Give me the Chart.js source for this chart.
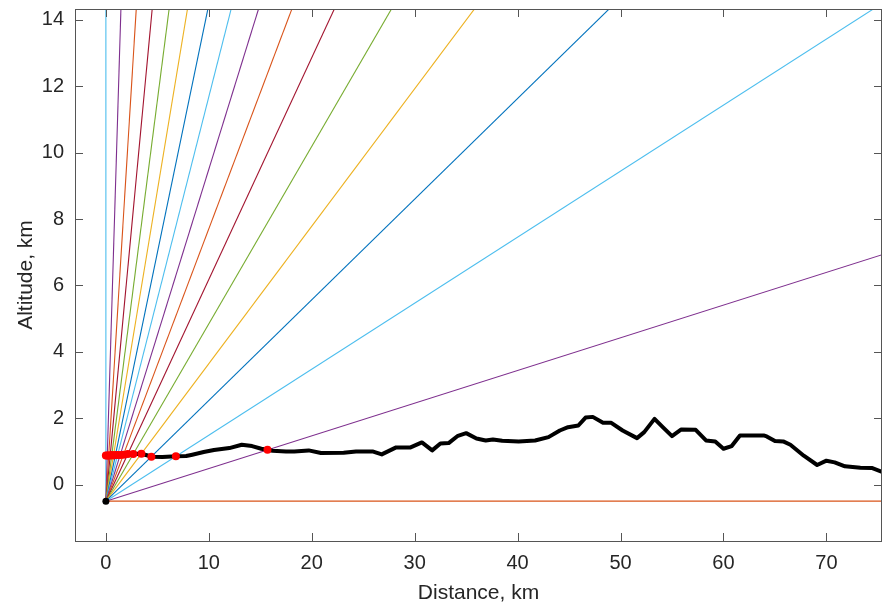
<!DOCTYPE html>
<html>
<head>
<meta charset="utf-8">
<title>Ray paths over terrain</title>
<script src="https://cdn.jsdelivr.net/npm/chart.js@4.4.1/dist/chart.umd.min.js"></script>
<style>
  html, body { margin: 0; padding: 0; background: #fff; }
  canvas { display: block; }
</style>
</head>
<body>
<canvas id="myChart" width="886" height="606"></canvas>
<script>
// terrain profile along the path (km)
const terrainX = [0, 0.5, 1.0, 1.5, 2.0, 2.6, 3.2, 3.8, 4.5, 5.5, 6.8, 7.8, 8.4, 9.5, 10.5, 12.0, 13.2, 14.2, 15.1, 16.2,
  17.5, 18.3, 19.7, 20.9, 23.1, 24.3, 25.9, 26.8, 28.2, 29.6, 30.7, 31.7, 32.5, 33.3, 34.2, 35.0, 36.0, 36.9, 37.6, 38.5,
  40.1, 41.7, 43.0, 44.1, 44.9, 45.9, 46.6, 47.3, 48.3, 49.1, 50.2, 51.6, 52.3, 53.3, 54.1, 55.0, 55.9, 57.3, 58.3, 59.2,
  60.0, 60.8, 61.6, 63.9, 64.2, 65.0, 65.8, 66.5, 67.8, 69.1, 70.0, 70.8, 71.8, 73.3, 74.4, 75.5];
const terrainY = [0.88, 0.87, 0.88, 0.89, 0.90, 0.92, 0.93, 0.90, 0.84, 0.83, 0.85, 0.86, 0.90, 0.98, 1.04, 1.10, 1.20, 1.16, 1.08, 1.02,
  1.00, 1.00, 1.03, 0.95, 0.96, 1.00, 1.00, 0.91, 1.12, 1.12, 1.27, 1.03, 1.24, 1.25, 1.47, 1.55, 1.39, 1.33, 1.36, 1.32,
  1.30, 1.33, 1.43, 1.63, 1.73, 1.78, 2.02, 2.04, 1.86, 1.86, 1.63, 1.40, 1.58, 1.98, 1.73, 1.46, 1.66, 1.65, 1.33, 1.30,
  1.08, 1.16, 1.48, 1.48, 1.45, 1.31, 1.30, 1.20, 0.87, 0.59, 0.72, 0.67, 0.55, 0.51, 0.50, 0.37];

// antenna position
const siteX = [0];
const siteY = [-0.5];

// elevation angles of the launched rays (degrees)
const rayAngles = [0, 5.625, 11.25, 16.875, 22.5, 28.125, 33.75, 39.375, 45, 50.625, 56.25, 61.875, 67.5, 73.125, 78.75, 84.375, 90];
const rayColors = ['#D95319', '#7E2F8E', '#4DBEEE', '#0072BD', '#EDB120', '#77AC30', '#A2142F', '#D95319', '#7E2F8E',
  '#4DBEEE', '#0072BD', '#EDB120', '#77AC30', '#A2142F', '#D95319', '#7E2F8E', '#4DBEEE'];
const rayLength = 120;

// where each ray first meets the ground
const hitX = [15.7, 6.8, 4.42, 3.45, 2.66, 2.13, 1.71, 1.39, 1.14, 0.93, 0.74, 0.575, 0.42, 0.275, 0.137, 0];
const hitY = [1.05, 0.85, 0.84, 0.93, 0.92, 0.92, 0.90, 0.89, 0.89, 0.89, 0.88, 0.89, 0.88, 0.88, 0.88, 0.88];

// axes
const xTicks = [0, 10, 20, 30, 40, 50, 60, 70];
const yTicks = [0, 2, 4, 6, 8, 10, 12, 14];
const xRange = [-3, 75.4];
const yRange = [-1.7, 14.33];

const axisColor = '#262626';
const boxColor = '#555555';
const fontFamily = '"Liberation Sans", Arial, Helvetica, sans-serif';

const zip = (xs, ys) => xs.map((v, i) => ({ x: v, y: ys[i] }));

const rayDatasets = rayAngles.map((deg, i) => {
  const r = deg * Math.PI / 180;
  return {
    label: 'ray ' + deg,
    data: [
      { x: siteX[0], y: siteY[0] },
      { x: siteX[0] + rayLength * Math.cos(r), y: siteY[0] + rayLength * Math.sin(r) }
    ],
    showLine: true,
    borderColor: rayColors[i],
    borderWidth: 1.1,
    pointRadius: 0,
    clip: 0,
    order: 4
  };
});

// inward tick marks and the box around the axes
const boxPlugin = {
  id: 'box',
  afterDraw(chart) {
    const { ctx, chartArea: a, scales: { x, y } } = chart;
    const len = 8;
    ctx.save();
    ctx.strokeStyle = boxColor;
    ctx.lineWidth = 1;
    ctx.beginPath();
    xTicks.forEach(v => {
      const px = Math.round(x.getPixelForValue(v)) + 0.5;
      ctx.moveTo(px, a.bottom); ctx.lineTo(px, a.bottom - len);
      ctx.moveTo(px, a.top); ctx.lineTo(px, a.top + len);
    });
    yTicks.forEach(v => {
      const py = Math.round(y.getPixelForValue(v)) + 0.5;
      ctx.moveTo(a.left, py); ctx.lineTo(a.left + len, py);
      ctx.moveTo(a.right, py); ctx.lineTo(a.right - len, py);
    });
    ctx.stroke();
    ctx.strokeRect(Math.round(a.left) + 0.5, Math.round(a.top) + 0.5,
      Math.round(a.right - a.left) - 1, Math.round(a.bottom - a.top));
    ctx.restore();
  }
};

const config = {
  type: 'scatter',
  data: {
    datasets: [
      {
        label: 'site',
        data: zip(siteX, siteY),
        backgroundColor: '#000',
        borderColor: '#000',
        pointRadius: 3.5,
        pointBorderWidth: 0,
        order: 0
      },
      {
        label: 'hits',
        data: zip(hitX, hitY),
        backgroundColor: '#FF0000',
        borderColor: '#FF0000',
        pointRadius: 4,
        pointBorderWidth: 0,
        order: 1
      },
      {
        label: 'terrain',
        data: zip(terrainX, terrainY),
        showLine: true,
        borderColor: '#000',
        borderWidth: 4,
        borderJoinStyle: 'round',
        borderCapStyle: 'round',
        pointRadius: 0,
        clip: 0,
        order: 2
      },
      ...rayDatasets
    ]
  },
  options: {
    responsive: false,
    animation: false,
    events: [],
    layout: { padding: { top: 9, right: 1, left: 0, bottom: 0 } },
    plugins: {
      legend: { display: false },
      tooltip: { enabled: false }
    },
    scales: {
      x: {
        type: 'linear',
        min: xRange[0],
        max: xRange[1],
        afterBuildTicks: scale => { scale.ticks = xTicks.map(v => ({ value: v })); },
        afterFit: scale => {
          scale.height = 65;
          scale.paddingLeft = 0;
          scale.paddingRight = 0;
        },
        grid: { display: false, drawTicks: false },
        border: { display: false },
        ticks: {
          color: axisColor,
          padding: 10,
          maxRotation: 0,
          font: { family: fontFamily, size: 20 }
        },
        title: {
          display: true,
          text: 'Distance, km',
          color: axisColor,
          padding: { top: 3, bottom: 0 },
          font: { family: fontFamily, size: 21 }
        }
      },
      y: {
        type: 'linear',
        min: yRange[0],
        max: yRange[1],
        afterBuildTicks: scale => { scale.ticks = yTicks.map(v => ({ value: v })); },
        afterFit: scale => {
          scale.width = 75;
          scale.paddingTop = 0;
          scale.paddingBottom = 0;
        },
        grid: { display: false, drawTicks: false },
        border: { display: false },
        ticks: {
          color: axisColor,
          padding: 11,
          font: { family: fontFamily, size: 20 }
        },
        title: {
          display: true,
          text: 'Altitude, km',
          color: axisColor,
          padding: { top: 14, bottom: 0 },
          font: { family: fontFamily, size: 21 }
        }
      }
    }
  },
  plugins: [boxPlugin]
};

new Chart(document.getElementById('myChart'), config);
</script>
</body>
</html>
